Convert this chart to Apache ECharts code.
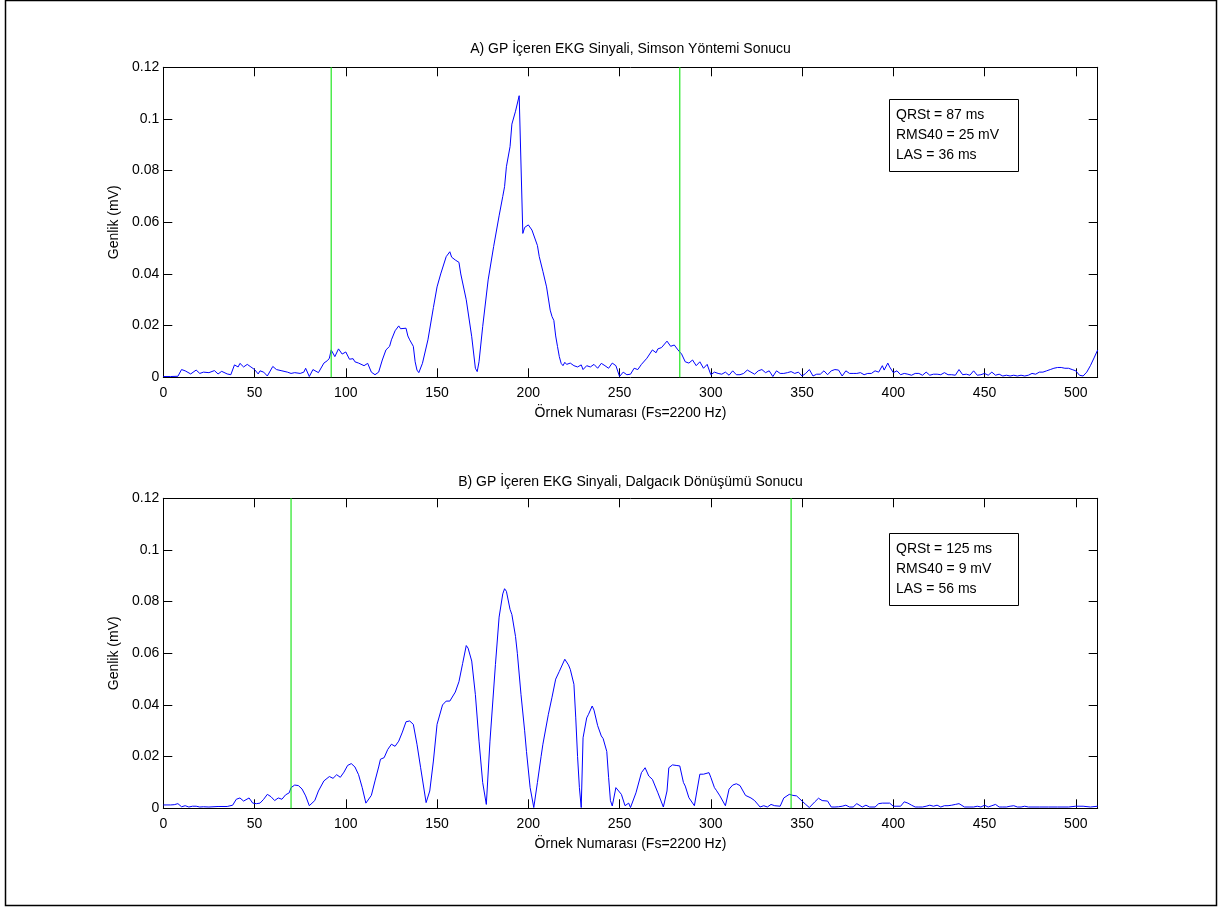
<!DOCTYPE html>
<html>
<head>
<meta charset="utf-8">
<script src="https://cdn.jsdelivr.net/npm/echarts@6/dist/echarts.min.js"></script>
<style>
html,body{margin:0;padding:0;background:#fff;}
#c{width:1222px;height:910px;}
</style>
</head>
<body>
<div id="c"></div>
<script>
// ---- Data ----
const titleA = 'A) GP İçeren EKG Sinyali, Simson Yöntemi Sonucu';
const titleB = 'B) GP İçeren EKG Sinyali, Dalgacık Dönüşümü Sonucu';
const xName = 'Örnek Numarası (Fs=2200 Hz)';
const yName = 'Genlik (mV)';
const infoA = ['QRSt = 87 ms', 'RMS40 = 25 mV', 'LAS = 36 ms'];
const infoB = ['QRSt = 125 ms', 'RMS40 = 9 mV', 'LAS = 56 ms'];
const markersA = [92, 283];
const markersB = [70, 344];
const xTicks = [0, 50, 100, 150, 200, 250, 300, 350, 400, 450, 500];
const yTicks = [0, 0.02, 0.04, 0.06, 0.08, 0.1, 0.12];

// [sample, amplitude]
const signalA = [
[0,0.0003],[4,0.0003],[8,0.0004],[10,0.003],[12,0.0025],[15,0.0013],[18,0.0028],[20,0.0015],[22,0.002],[25,0.0018],
[28,0.0026],[30,0.0013],[32,0.0023],[35,0.0013],[37,0.001],[39,0.0048],[41,0.004],[42,0.0054],[44,0.004],[46,0.005],
[48,0.004],[50,0.003],[52,0.0013],[53,0.0025],[55,0.002],[57,0.0005],[58,0.001],[60,0.0042],[62,0.003],[63,0.0035],
[65,0.0025],[66,0.002],[68,0.002],[70,0.0015],[72,0.0018],[75,0.0015],[77,0.002],[78,0.0035],[80,0.0003],[82,0.003],
[83,0.0026],[85,0.0018],[86,0.002],[88,0.0055],[90,0.0065],[91,0.0074],[92,0.0106],[94,0.008],[96,0.011],[98,0.009],
[100,0.0098],[102,0.007],[104,0.0072],[105,0.006],[107,0.0055],[108,0.0054],[110,0.0045],[112,0.0054],[114,0.002],[116,0.001],
[118,0.002],[120,0.0067],[122,0.0106],[124,0.012],[125,0.0145],[127,0.018],[129,0.0199],[130,0.0188],[131,0.019],[133,0.019],
[134,0.016],[135,0.0145],[137,0.012],[138,0.006],[139,0.0028],[140,0.0018],[142,0.0054],[145,0.0145],[148,0.027],[150,0.035],
[152,0.040],[155,0.0467],[157,0.0486],[158,0.0465],[160,0.0454],[162,0.0445],[163,0.040],[166,0.030],[169,0.0157],[171,0.0035],
[172,0.0022],[173,0.006],[175,0.0196],[178,0.0377],[181,0.0506],[184,0.0625],[186,0.070],[187,0.0738],[188,0.0815],[190,0.0893],
[191,0.098],[193,0.103],[195,0.109],[196,0.109],[197,0.0557],[198,0.058],[200,0.059],[202,0.057],[203,0.0564],[205,0.051],
[206,0.0467],[208,0.041],[210,0.035],[212,0.026],[213,0.0235],[214,0.022],[215,0.016],[216,0.0119],[217,0.008],[218,0.0054],
[219,0.0045],[220,0.0058],[221,0.005],[223,0.0055],[225,0.0045],[227,0.004],[229,0.0048],[230,0.003],[232,0.0045],[234,0.004],
[236,0.005],[238,0.0035],[240,0.0054],[242,0.0045],[244,0.0035],[246,0.0055],[248,0.0045],[249,0.004],[250,0.0003],[252,0.002],
[254,0.001],[256,0.0012],[258,0.0035],[260,0.003],[262,0.005],[265,0.0074],[268,0.0106],[270,0.0095],[271,0.011],[273,0.0115],
[274,0.012],[276,0.014],[278,0.012],[280,0.0125],[282,0.0106],[284,0.009],[286,0.006],[288,0.0055],[290,0.0067],[292,0.0045],
[294,0.006],[296,0.0035],[298,0.005],[300,0.001],[302,0.002],[304,0.0015],[306,0.0012],[308,0.002],[310,0.0008],[312,0.0025],
[314,0.001],[316,0.001],[318,0.0015],[320,0.0028],[322,0.002],[324,0.0012],[326,0.0025],[328,0.003],[330,0.0018],[332,0.0025],
[334,0.0003],[336,0.0025],[338,0.0015],[340,0.0015],[342,0.0018],[344,0.0022],[346,0.0015],[348,0.002],[350,0.0005],[352,0.0015],
[354,0.003],[356,0.0005],[358,0.0012],[360,0.0012],[362,0.0025],[364,0.001],[366,0.0025],[368,0.003],[370,0.0028],[372,0.0005],
[374,0.0025],[376,0.0015],[378,0.0015],[380,0.0015],[382,0.0018],[384,0.001],[386,0.0015],[388,0.0015],[390,0.0025],[392,0.002],
[394,0.0045],[395,0.0028],[397,0.0055],[398,0.004],[400,0.0018],[402,0.0025],[404,0.001],[406,0.0015],[408,0.0012],[410,0.0008],
[412,0.0015],[414,0.0015],[416,0.0008],[418,0.002],[420,0.0008],[422,0.0012],[424,0.0012],[426,0.001],[428,0.0018],[430,0.001],
[432,0.001],[434,0.0008],[436,0.003],[438,0.001],[440,0.0012],[442,0.0008],[444,0.0025],[446,0.0008],[448,0.001],[450,0.0015],
[452,0.0008],[454,0.002],[456,0.0008],[458,0.0012],[460,0.0005],[462,0.0008],[464,0.0005],[466,0.0008],[468,0.0005],[470,0.0008],
[472,0.0005],[474,0.0008],[476,0.0015],[478,0.0012],[480,0.002],[482,0.002],[484,0.0025],[486,0.003],[488,0.0035],[490,0.0038],
[492,0.0038],[494,0.0035],[496,0.0035],[498,0.003],[500,0.0025],[502,0.0008],[504,0.0005],[506,0.002],[508,0.0045],[510,0.0075],
[512,0.0106]
];

const signalB = [
[0,0.0013],[4,0.0013],[6,0.0014],[8,0.0018],[10,0.0006],[12,0.001],[14,0.0005],[16,0.0008],[18,0.0008],[20,0.0005],
[22,0.0006],[25,0.0005],[30,0.0007],[35,0.0007],[36,0.0005],[38,0.0012],[40,0.0035],[42,0.004],[44,0.0028],[45,0.0026],
[47,0.004],[49,0.002],[51,0.0018],[53,0.002],[55,0.0035],[57,0.0054],[59,0.0045],[61,0.003],[63,0.004],[65,0.0035],
[67,0.0052],[69,0.006],[70,0.008],[72,0.009],[74,0.0088],[76,0.0075],[78,0.0048],[80,0.001],[81,0.0003],[83,0.003],
[85,0.0067],[88,0.0106],[91,0.0123],[93,0.0116],[95,0.013],[97,0.012],[99,0.014],[101,0.0166],[103,0.0173],[105,0.016],
[107,0.013],[109,0.008],[111,0.002],[112,0.0013],[114,0.005],[116,0.0106],[118,0.016],[119,0.019],[121,0.0196],[123,0.0228],
[125,0.0248],[127,0.024],[129,0.026],[131,0.0295],[133,0.0335],[135,0.0338],[137,0.0325],[139,0.0248],[141,0.0157],[144,0.0022],
[146,0.0067],[148,0.0183],[150,0.0325],[153,0.040],[155,0.0415],[157,0.0415],[160,0.045],[162,0.049],[164,0.056],[166,0.063],
[167,0.062],[169,0.057],[171,0.044],[173,0.026],[175,0.01],[177,0.0015],[179,0.026],[182,0.0557],[184,0.074],[186,0.083],
[187,0.085],[188,0.084],[190,0.077],[191,0.075],[193,0.0665],[194,0.06],[196,0.044],[198,0.03],[199,0.022],[201,0.008],
[203,0.0003],[205,0.01],[207,0.02],[208,0.0248],[211,0.0364],[213,0.043],[215,0.05],[217,0.053],[220,0.0577],[222,0.0555],
[223,0.0538],[225,0.048],[226,0.035],[227,0.02],[228,0.008],[229,0.0003],[230,0.0273],[232,0.035],[233,0.0364],[235,0.0396],
[236,0.038],[238,0.032],[240,0.028],[241,0.027],[243,0.022],[244,0.012],[245,0.003],[246,0.0009],[248,0.008],[249,0.0083],
[251,0.0054],[253,0.001],[255,0.002],[256,0.0003],[259,0.006],[262,0.0138],[264,0.0157],[266,0.0125],[268,0.0112],[271,0.006],
[274,0.0005],[276,0.0067],[277,0.0157],[279,0.0168],[281,0.0166],[283,0.0164],[285,0.01],[286,0.0086],[288,0.0041],[291,0.001],
[294,0.0132],[296,0.0132],[299,0.0138],[300,0.012],[302,0.008],[303,0.007],[305,0.0048],[308,0.001],[310,0.0074],[312,0.009],
[314,0.0095],[316,0.0088],[317,0.0086],[319,0.005],[322,0.004],[324,0.003],[327,0.0005],[329,0.001],[331,0.0005],[333,0.0015],
[335,0.001],[338,0.0008],[340,0.004],[343,0.0054],[345,0.005],[347,0.0048],[350,0.0028],[352,0.0015],[354,0.0003],[357,0.0025],
[359,0.0039],[361,0.003],[364,0.0028],[366,0.0005],[368,0.0005],[370,0.0006],[372,0.0008],[374,0.0012],[376,0.0005],[378,0.0005],
[380,0.0018],[381,0.0015],[383,0.0005],[385,0.0012],[387,0.0005],[390,0.0005],[392,0.0018],[394,0.002],[396,0.002],[398,0.002],
[400,0.0008],[402,0.0008],[404,0.0008],[406,0.0025],[408,0.002],[410,0.0012],[412,0.0005],[414,0.0005],[416,0.0005],[418,0.0008],
[420,0.0012],[422,0.0008],[424,0.0012],[426,0.0005],[428,0.001],[430,0.001],[432,0.0012],[434,0.0015],[436,0.0018],[437,0.002],
[439,0.0005],[442,0.0005],[444,0.0005],[446,0.0008],[448,0.0005],[450,0.0012],[452,0.0005],[454,0.001],[456,0.0015],[458,0.0005],
[460,0.0005],[462,0.0005],[464,0.0008],[466,0.001],[468,0.0005],[470,0.0005],[472,0.0008],[474,0.0005],[480,0.0005],[485,0.0005],
[490,0.0005],[496,0.0005],[500,0.0008],[504,0.0008],[508,0.0005],[512,0.0008]
];

// ---- Chart ----
const FONT = '"Liberation Sans", Arial, Helvetica, sans-serif';
const FS = 14;
const chart = echarts.init(document.getElementById('c'), null, {renderer: 'canvas'});

const gridL = 163.3, gridW = 934.4, gridH = 310;
const gridTops = [67.3, 498.3];
const xMin = 0, xMax = 512, xInt = 50;
const yMin = 0, yMax = 0.12, yInt = 0.02;

const tickStyle = {show: true, inside: true, length: 9, lineStyle: {color: '#000', width: 1}};
const lineStyle = {show: true, onZero: false, lineStyle: {color: '#000', width: 1}};

function xAxisBottom(g) {
  return {
    type: 'value', gridIndex: g, min: xMin, max: xMax, interval: xInt, position: 'bottom',
    axisLine: lineStyle, axisTick: tickStyle, splitLine: {show: false},
    axisLabel: {color: '#000', fontSize: FS, fontFamily: FONT, margin: 9,
      formatter: v => (xTicks.indexOf(v) >= 0 ? String(v) : '')},
    name: xName, nameLocation: 'middle', nameGap: 29,
    nameTextStyle: {color: '#000', fontSize: FS, fontFamily: FONT}
  };
}
function xAxisTop(g) {
  return {
    type: 'value', gridIndex: g, min: xMin, max: xMax, interval: xInt, position: 'top',
    axisLine: lineStyle, axisTick: tickStyle, splitLine: {show: false}, axisLabel: {show: false}
  };
}
function yAxisLeft(g) {
  return {
    type: 'value', gridIndex: g, min: yMin, max: yMax, interval: yInt, position: 'left',
    axisLine: lineStyle, axisTick: tickStyle, splitLine: {show: false},
    axisLabel: {color: '#000', fontSize: FS, fontFamily: FONT, margin: 4,
      formatter: v => { const t = yTicks.find(k => Math.abs(k - v) < 1e-9); return t === undefined ? '' : String(t); }},
    name: yName, nameLocation: 'middle', nameGap: 39,
    nameTextStyle: {color: '#000', fontSize: FS, fontFamily: FONT}
  };
}
function yAxisRight(g) {
  return {
    type: 'value', gridIndex: g, min: yMin, max: yMax, interval: yInt, position: 'right',
    axisLine: lineStyle, axisTick: tickStyle, splitLine: {show: false}, axisLabel: {show: false}
  };
}

function markerSeries(xs, axisX, axisY) {
  return xs.map(x => ({
    type: 'line', xAxisIndex: axisX, yAxisIndex: axisY, data: [[x, yMin], [x, yMax]],
    showSymbol: false, symbol: 'none', silent: true, z: 3,
    lineStyle: {color: '#22e622', width: 1.2}
  }));
}

function infoBox(lines, top) {
  return [
    {type: 'rect', shape: {x: 889.5, y: top + 0.5, width: 129, height: 72},
      style: {fill: '#fff', stroke: '#000', lineWidth: 1}, z: 10},
    {type: 'text', x: 896, y: top + 6, z: 11,
      style: {text: lines.join('\n'), fill: '#000', font: FS + 'px ' + FONT, lineHeight: 20}}
  ];
}

const option = {
  backgroundColor: '#fff',
  animation: false,
  title: [
    {text: titleA, left: 630.5, top: 42, textAlign: 'center', padding: 0,
      textStyle: {color: '#000', fontSize: FS, fontWeight: 'normal', fontFamily: FONT}},
    {text: titleB, left: 630.5, top: 475, textAlign: 'center', padding: 0,
      textStyle: {color: '#000', fontSize: FS, fontWeight: 'normal', fontFamily: FONT}}
  ],
  grid: gridTops.map(t => ({left: gridL, top: t, width: gridW, height: gridH, containLabel: false})),
  xAxis: [xAxisBottom(0), xAxisTop(0), xAxisBottom(1), xAxisTop(1)],
  yAxis: [yAxisLeft(0), yAxisRight(0), yAxisLeft(1), yAxisRight(1)],
  series: [
    {type: 'line', xAxisIndex: 0, yAxisIndex: 0, data: signalA, showSymbol: false, symbol: 'none',
      lineStyle: {color: '#0000ff', width: 1}, z: 2},
    {type: 'line', xAxisIndex: 2, yAxisIndex: 2, data: signalB, showSymbol: false, symbol: 'none',
      lineStyle: {color: '#0000ff', width: 1}, z: 2}
  ].concat(markerSeries(markersA, 0, 0), markerSeries(markersB, 2, 2)),
  graphic: [
    {type: 'rect', shape: {x: 5.5, y: 0.5, width: 1211, height: 905},
      style: {fill: 'none', stroke: '#000', lineWidth: 1.5}, z: 0, silent: true}
  ].concat(infoBox(infoA, 99), infoBox(infoB, 533))
};
chart.setOption(option);
</script>
</body>
</html>
